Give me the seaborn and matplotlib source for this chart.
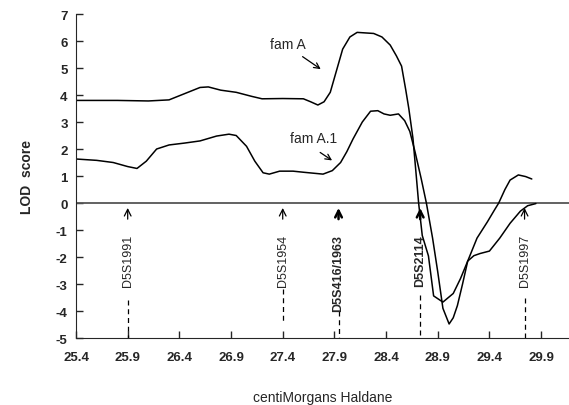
import pandas as pd
import numpy as np
import seaborn as sns
import matplotlib.pyplot as plt

# LOD score curves (centiMorgans, LOD)
fam_a_cm = [25.4, 25.8, 26.1, 26.3, 26.45, 26.6, 26.68, 26.8, 26.95, 27.1, 27.2, 27.4,
            27.6, 27.67, 27.74, 27.8, 27.86, 27.92, 27.98, 28.05, 28.12, 28.2, 28.28,
            28.36, 28.44, 28.5, 28.55, 28.59, 28.62, 28.66, 28.69, 28.715, 28.75, 28.81,
            28.86, 28.95, 29.05, 29.12, 29.19, 29.25, 29.31, 29.4, 29.5, 29.6, 29.7,
            29.77, 29.85]
fam_a_lod = [3.8, 3.8, 3.78, 3.82, 4.05, 4.28, 4.3, 4.18, 4.1, 3.95, 3.86, 3.87,
             3.86, 3.75, 3.63, 3.75, 4.1, 4.9, 5.7, 6.15, 6.32, 6.3, 6.28,
             6.15, 5.85, 5.45, 5.07, 4.2, 3.5, 2.4, 1.1, 0.0, -1.2, -1.96,
             -3.44, -3.67, -3.35, -2.8, -2.15, -1.95, -1.87, -1.78, -1.3, -0.75, -0.3,
             -0.1, -0.02]

fam_a1_cm = [25.4, 25.6, 25.76, 25.9, 25.99, 26.08, 26.18, 26.3, 26.45, 26.6, 26.76,
             26.88, 26.95, 27.05, 27.13, 27.21, 27.27, 27.37, 27.5, 27.6, 27.79, 27.88,
             27.96, 28.02, 28.08, 28.17, 28.25, 28.32, 28.38, 28.44, 28.52, 28.58, 28.63,
             28.68, 28.74, 28.79, 28.85, 28.9, 28.95, 29.01, 29.05, 29.09, 29.14, 29.19,
             29.28, 29.38, 29.45, 29.49, 29.55, 29.6, 29.68, 29.75, 29.81]
fam_a1_lod = [1.63, 1.58, 1.5, 1.35, 1.28, 1.55, 2.0, 2.15, 2.22, 2.3, 2.48,
              2.55, 2.5, 2.1, 1.55, 1.12, 1.07, 1.18, 1.18, 1.14, 1.07, 1.2,
              1.5, 1.9, 2.37, 3.0, 3.4, 3.42, 3.3, 3.25, 3.3, 3.05, 2.65,
              1.9, 0.9, 0.0, -1.3, -2.55, -3.9, -4.48, -4.25, -3.8, -3.0, -2.15,
              -1.3, -0.7, -0.25, 0.0, 0.5, 0.85, 1.04, 0.98, 0.89]

# marker loci
markers = ['D5S1991', 'D5S1954', 'D5S416/1963', 'D5S2114', 'D5S1997']
marker_cm = [25.9, 27.4, 27.94, 28.73, 29.74]
marker_bold = [False, False, True, True, False]
dash_top = [-3.6, -3.2, -4.0, -3.4, -3.5]
dash_bottom = [-5.0, -4.4, -5.0, -5.0, -5.0]

x_ticks = [25.4, 25.9, 26.4, 26.9, 27.4, 27.9, 28.4, 28.9, 29.4, 29.9]

df = pd.concat([
    pd.DataFrame({'cM': fam_a_cm, 'LOD': fam_a_lod, 'family': 'fam A'}),
    pd.DataFrame({'cM': fam_a1_cm, 'LOD': fam_a1_lod, 'family': 'fam A.1'}),
])

sns.set_style("ticks")
plt.rcParams['font.family'] = ['Liberation Sans', 'DejaVu Sans']

fig = plt.figure(figsize=(5.69, 4.06), dpi=100)
ax = fig.add_axes([0.1336, 0.165, 0.8664, 0.798])

sns.lineplot(data=df, x='cM', y='LOD', hue='family', palette=['black', 'black'],
             sort=False, estimator=None, linewidth=1.1, legend=False, ax=ax)

ax.axhline(0, color='#555555', linewidth=1.3, zorder=1)

for name, xm, bold, dt, db in zip(markers, marker_cm, marker_bold, dash_top, dash_bottom):
    ax.annotate('', xy=(xm, -0.08), xytext=(xm, -0.7),
                arrowprops=dict(arrowstyle='->', color='black',
                                lw=1.8 if bold else 0.9,
                                mutation_scale=12))
    ax.text(xm, -1.15, name, rotation=90, ha='center', va='top', fontsize=9,
            fontweight='bold' if bold else 'normal')
    ax.plot([xm, xm], [dt, db], color='black', linestyle=(0, (4, 3)), linewidth=0.9)

ax.text(27.45, 5.9, 'fam A', ha='center', va='center', fontsize=10)
ax.annotate('', xy=(27.79, 4.9), xytext=(27.57, 5.48),
            arrowprops=dict(arrowstyle='->', color='black', lw=0.9))
ax.text(27.7, 2.4, 'fam A.1', ha='center', va='center', fontsize=10)
ax.annotate('', xy=(27.9, 1.52), xytext=(27.74, 1.93),
            arrowprops=dict(arrowstyle='->', color='black', lw=0.9))

ax.set_xlim(25.4, 30.17)
ax.set_ylim(-5, 7)
ax.set_xticks(x_ticks)
ax.set_xticklabels([f'{t:.1f}' for t in x_ticks], fontweight='bold')
ax.set_yticks(range(-5, 8))
ax.set_yticklabels([str(t) for t in range(-5, 8)], fontweight='bold')
ax.tick_params(axis='both', direction='in', length=5, width=1, labelsize=9.5)
ax.tick_params(axis='x', pad=9)
ax.tick_params(axis='y', pad=6)
ax.spines['top'].set_visible(False)
ax.spines['right'].set_visible(False)
ax.set_xlabel('centiMorgans Haldane', fontsize=10, labelpad=20)
ax.set_ylabel('LOD  score', fontsize=10, labelpad=16, fontweight='bold')

plt.savefig('out.png', dpi=100)
plt.close()
